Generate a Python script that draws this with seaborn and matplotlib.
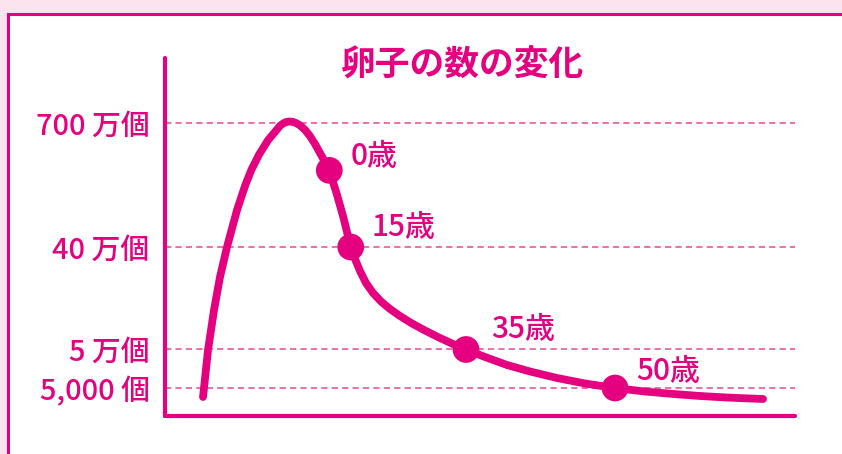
import matplotlib
matplotlib.use("Agg")
import matplotlib.pyplot as plt
from matplotlib.patches import Rectangle
import seaborn as sns
import pandas as pd

# ---- data (in a 0-100 chart space) ----
curve_x = [6.03, 6.19, 6.83, 7.78, 8.73, 9.84, 11.43, 12.75, 13.70, 14.89,
           16.37, 17.71, 18.25, 18.73, 19.21, 19.76, 20.32, 20.79, 21.43,
           22.22, 23.02, 23.81, 24.60, 25.40, 26.08, 27.25, 28.30, 29.48,
           30.16, 30.95, 31.90, 33.02, 34.29, 35.71, 37.30, 39.21, 41.27,
           43.65, 45.71, 47.78, 50.79, 54.29, 57.94, 62.22, 66.67, 71.43,
           76.19, 80.63, 84.92, 88.57, 92.06, 94.92]
curve_y = [5.31, 7.82, 18.44, 29.61, 38.83, 47.21, 57.54, 64.53, 68.72, 72.91,
           77.09, 79.89, 81.06, 81.68, 82.11, 82.26, 82.14, 81.85, 81.17,
           79.92, 78.16, 75.98, 73.46, 70.95, 68.62, 62.10, 55.57, 47.20,
           43.85, 40.50, 37.15, 34.36, 31.98, 29.89, 27.93, 25.84, 23.88,
           21.79, 20.11, 18.58, 16.48, 14.25, 12.43, 10.61, 9.08, 7.82,
           6.84, 6.15, 5.59, 5.22, 4.94, 4.75]

age_labels = ["0歳", "15歳", "35歳", "50歳"]
age_x = [26.08, 29.48, 47.78, 71.43]
age_y = [68.62, 47.20, 18.58, 7.82]

tick_levels = [81.8, 47.2, 18.7, 7.8]
tick_labels = ["700 万個", "40 万個", "5 万個", "5,000 個"]

title = "卵子の数の変化"

# ---- style ----
MAG = "#e4007f"
GRID = "#e8649f"
BG = "#fce4ee"

sns.set_theme(style="white")
plt.rcParams["font.family"] = ["Noto Sans CJK JP", "DejaVu Sans"]
plt.rcParams["lines.scale_dashes"] = False

W, H = 842, 454
fig = plt.figure(figsize=(W / 100, H / 100), dpi=100, facecolor=BG)

# white panel with magenta border
fig.patches.append(Rectangle((8 / W, -0.2), 2.0, 1.2 - 14 / H,
                             transform=fig.transFigure, facecolor="white",
                             edgecolor=MAG, linewidth=2.2, zorder=-10))

ax = fig.add_axes([165 / W, (H - 416) / H, 630 / W, (416 - 58) / H])
ax.set_zorder(5)
ax.set_facecolor("none")
ax.set_xlim(0, 100)
ax.set_ylim(0, 100)

df = pd.DataFrame({"x": curve_x, "y": curve_y})
sns.lineplot(data=df, x="x", y="y", sort=False, ax=ax, color=MAG,
             linewidth=5.6, solid_capstyle="round", solid_joinstyle="round",
             zorder=3)
pts = pd.DataFrame({"x": age_x, "y": age_y, "label": age_labels})
sns.scatterplot(data=pts, x="x", y="y", ax=ax, color=MAG, s=370,
                edgecolor="none", linewidth=0, zorder=4, legend=False)

offsets = [(21, 14), (21, 20), (25, 20), (21, 17)]
for (lab, x, y), (dx, dy) in zip(zip(age_labels, age_x, age_y), offsets):
    ax.annotate(lab, (x, y), xytext=(dx, dy), textcoords="offset pixels",
                ha="left", va="center", fontsize=21.5, fontweight="medium",
                color=MAG, zorder=5)

# gridlines
for lv in tick_levels:
    ax.axhline(lv, color=GRID, linewidth=1.3, linestyle=(0, (4.5, 3)), zorder=1)

ax.set_yticks(tick_levels)
ax.set_yticklabels(tick_labels, fontsize=20.8, fontweight="medium", color=MAG)
ax.set_xticks([])
ax.tick_params(axis="y", length=0, pad=11)
ax.set_xlabel("")
ax.set_ylabel("")

for side in ["top", "right"]:
    ax.spines[side].set_visible(False)
for side in ["left", "bottom"]:
    ax.spines[side].set_color(MAG)
    ax.spines[side].set_linewidth(3.0)
    ax.spines[side].set_capstyle("round")

fig.text(463 / W, 1 - 65 / H, title, ha="center", va="center",
         fontsize=25, fontweight="bold", color=MAG)

fig.savefig("out.png", dpi=100, facecolor=BG)
